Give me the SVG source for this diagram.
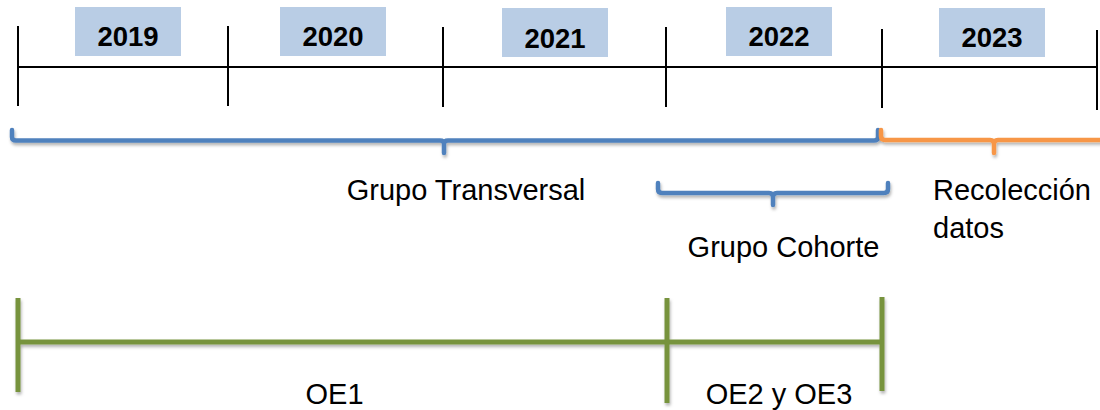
<svg xmlns="http://www.w3.org/2000/svg" width="1100" height="410" viewBox="0 0 1100 410">
<style>
.tick{stroke:#000;stroke-width:2;fill:none}
.yearbox{fill:#B9CDE5}
.year{font-family:"Liberation Sans",Arial,sans-serif;font-weight:bold;font-size:27.5px;fill:#000;text-anchor:middle}
.lbl{font-family:"Liberation Sans",Arial,sans-serif;font-size:29px;fill:#000}
.mid{text-anchor:middle}
.blue{stroke:#4F81BD;stroke-width:4.5;fill:none;stroke-linecap:round;stroke-linejoin:round}
.orange{stroke:#F79646;stroke-width:4.5;fill:none;stroke-linecap:round;stroke-linejoin:round}
.green{stroke:#77933C;stroke-width:5;fill:none}
</style>
<defs>
<filter id="sh" x="-5%" y="-50%" width="110%" height="200%">
<feDropShadow dx="1" dy="2.5" stdDeviation="1.5" flood-color="#000" flood-opacity="0.3"/>
</filter>
</defs>
<rect width="1100" height="410" fill="#fff"/>
<g id="timeline">
<line class="tick" x1="18" y1="67" x2="1097" y2="67"/>
<line class="tick" x1="18" y1="26" x2="18" y2="106"/>
<line class="tick" x1="228" y1="26" x2="228" y2="106"/>
<line class="tick" x1="443" y1="27" x2="443" y2="107"/>
<line class="tick" x1="666" y1="27" x2="666" y2="107"/>
<line class="tick" x1="882" y1="29" x2="882" y2="108"/>
<line class="tick" x1="1097" y1="30" x2="1097" y2="110"/>
</g>
<g id="y2019"><rect class="yearbox" x="75" y="7" width="106" height="49"/><text class="year" x="128" y="46">2019</text></g>
<g id="y2020"><rect class="yearbox" x="280" y="7" width="106" height="49"/><text class="year" x="333" y="46">2020</text></g>
<g id="y2021"><rect class="yearbox" x="502" y="8" width="106" height="49"/><text class="year" x="555" y="48">2021</text></g>
<g id="y2022"><rect class="yearbox" x="726" y="7" width="106" height="49"/><text class="year" x="779" y="46">2022</text></g>
<g id="y2023"><rect class="yearbox" x="939" y="8" width="106" height="49"/><text class="year" x="992" y="47">2023</text></g>
<g id="connectors">
<path class="blue" filter="url(#sh)" d="M12,130 V137 Q12,140.5 16,140.5 H440 Q444,140.5 444,144 V153 V144 Q444,140.5 448,140.5 H874 Q878,140.5 878,137 V130"/>
<path class="orange" filter="url(#sh)" d="M881,130 V136 Q881,140 885,140 H990 Q994,140 994,144 V153 V144 Q994,140 998,140 H1102"/>
<path class="blue" filter="url(#sh)" d="M658,183 V189 Q658,193 662,193 H769 Q773,193 773,197 V205 V197 Q773,193 777,193 H884 Q888,193 888,189 V183"/>
<g filter="url(#sh)">
<line class="green" x1="18" y1="342" x2="882" y2="342"/>
<line class="green" x1="18" y1="298" x2="18" y2="392"/>
<line class="green" x1="667" y1="298" x2="667" y2="403"/>
<line class="green" x1="882" y1="297" x2="882" y2="391"/>
</g>
</g>
<g id="transversal"><text class="lbl mid" x="466" y="200">Grupo Transversal</text></g>
<g id="cohorte"><text class="lbl mid" x="783.5" y="257">Grupo Cohorte</text></g>
<g id="recoleccion"><text class="lbl" x="933" y="200">Recolección</text><text class="lbl" x="933" y="238">datos</text></g>
<g id="oe1"><text class="lbl mid" x="334.5" y="404">OE1</text></g>
<g id="oe23"><text class="lbl mid" x="779" y="404">OE2 y OE3</text></g>
</svg>
